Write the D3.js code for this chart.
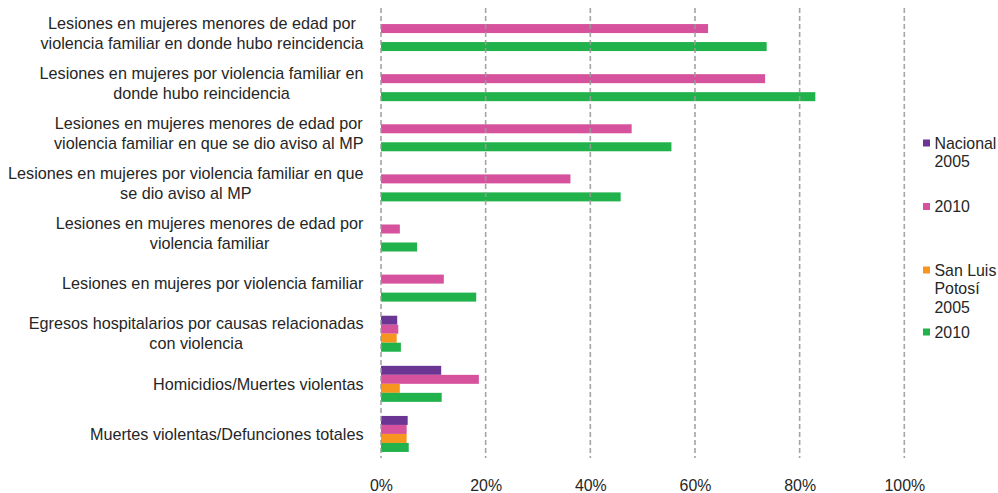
<!DOCTYPE html>
<html>
<head>
<meta charset="utf-8">
<script src="https://cdn.jsdelivr.net/npm/d3@7"></script>
<style>
  html, body { margin: 0; padding: 0; background: #fff; }
  svg { display: block; font-family: "Liberation Sans", Arial, sans-serif; }
</style>
</head>
<body>
<svg id="chart" width="998" height="493"></svg>
<script>
// ---- data ----
const categories = [
  "Lesiones en mujeres menores de edad por\nviolencia familiar en donde hubo reincidencia",
  "Lesiones en mujeres por violencia familiar en\ndonde hubo reincidencia",
  "Lesiones en mujeres menores de edad por\nviolencia familiar en que se dio aviso al MP",
  "Lesiones en mujeres por violencia familiar en que\nse dio aviso al MP",
  "Lesiones en mujeres menores de edad por\nviolencia familiar",
  "Lesiones en mujeres por violencia familiar",
  "Egresos hospitalarios por causas relacionadas\ncon violencia",
  "Homicidios/Muertes violentas",
  "Muertes violentas/Defunciones totales"
];
const seriesKeys = ["nac2005", "nac2010", "slp2005", "slp2010"];
const nacional2005 = [null, null, null, null, null, null, 0.031, 0.115, 0.051];
const nacional2010 = [0.625, 0.734, 0.479, 0.362, 0.036, 0.120, 0.033, 0.187, 0.049];
const sanLuis2005  = [null, null, null, null, null, null, 0.030, 0.036, 0.049];
const sanLuis2010  = [0.737, 0.830, 0.555, 0.458, 0.069, 0.182, 0.038, 0.116, 0.053];
const seriesValues = [nacional2005, nacional2010, sanLuis2005, sanLuis2010];
const legendLabels = [["Nacional", "2005"], ["2010"], ["San Luis", "Potosí", "2005"], ["2010"]];
const tickValues = [0, 0.2, 0.4, 0.6, 0.8, 1.0];
const tickLabels = ["0%", "20%", "40%", "60%", "80%", "100%"];
const colors = ["#6b3594", "#d6529c", "#f7961e", "#21b24c"];

function draw() {
  const svg = d3.select("#chart");
  const labelSize = 16.2;
  const fontSize = 15.9;
  const textColor = "#262626";
  const ff = "Liberation Sans, Arial, sans-serif";

  const x = d3.scaleLinear().domain([0, 1]).range([381, 904.3]);
  const y = d3.scaleBand().domain(categories).range([8, 459]).padding(0);
  const bw = y.bandwidth();
  const ySub = d3.scaleBand().domain(seriesKeys).range([bw / 2 - 18, bw / 2 + 18]).padding(0);

  // bars
  const rows = [];
  categories.forEach((c, i) => {
    seriesKeys.forEach((k, j) => {
      const v = seriesValues[j][i];
      if (v != null) rows.push({ cat: c, key: k, value: v, color: colors[j] });
    });
  });
  svg.append("g").selectAll("rect").data(rows).join("rect")
    .attr("x", x(0))
    .attr("y", d => y(d.cat) + ySub(d.key))
    .attr("width", d => x(d.value) - x(0))
    .attr("height", ySub.bandwidth())
    .attr("fill", d => d.color);

  // gridlines (on top)
  svg.append("g").selectAll("line").data(tickValues).join("line")
    .attr("x1", d => x(d)).attr("x2", d => x(d))
    .attr("y1", 8).attr("y2", 458)
    .attr("stroke", "#9a9a9a")
    .attr("stroke-width", 1.6)
    .attr("stroke-dasharray", "5,3")
    .attr("stroke-opacity", 0.9);

  // x axis labels
  const xAxis = d3.axisBottom(x).tickValues(tickValues).tickFormat((d, i) => tickLabels[i]).tickSize(0).tickPadding(0);
  const gx = svg.append("g").attr("transform", "translate(0,479.3)").call(xAxis);
  gx.select(".domain").remove();
  gx.selectAll("text").attr("font-size", fontSize).attr("fill", textColor).attr("font-family", ff);

  // category labels
  const lineH = 19.8;
  const labelRight = 363.5;
  categories.forEach(c => {
    const lines = c.split("\n");
    const cy = y(c) + bw / 2;
    const g = svg.append("g");
    const texts = lines.map((ln, i) =>
      g.append("text")
        .attr("y", cy + (i - (lines.length - 1) / 2) * lineH)
        .attr("dy", "0.35em")
        .attr("text-anchor", "middle")
        .attr("font-size", labelSize)
        .attr("font-family", ff)
        .attr("fill", textColor)
        .text(ln));
    const maxW = d3.max(texts, t => t.node().getComputedTextLength());
    texts.forEach(t => t.attr("x", labelRight - maxW / 2));
  });

  // legend
  const legTop = [143, 206.5, 270, 332];
  const legLineH = 18.5;
  legendLabels.forEach((lbl, i) => {
    const g = svg.append("g");
    g.append("rect").attr("x", 923).attr("y", legTop[i] - 3.5).attr("width", 7).attr("height", 7).attr("fill", colors[i]);
    lbl.forEach((ln, j) => {
      g.append("text").attr("x", 934.5).attr("y", legTop[i] + j * legLineH).attr("dy", "0.35em")
        .attr("font-size", fontSize).attr("font-family", ff).attr("fill", textColor).text(ln);
    });
  });
}
if (document.fonts && document.fonts.ready) document.fonts.ready.then(draw); else draw();
</script>
</body>
</html>
